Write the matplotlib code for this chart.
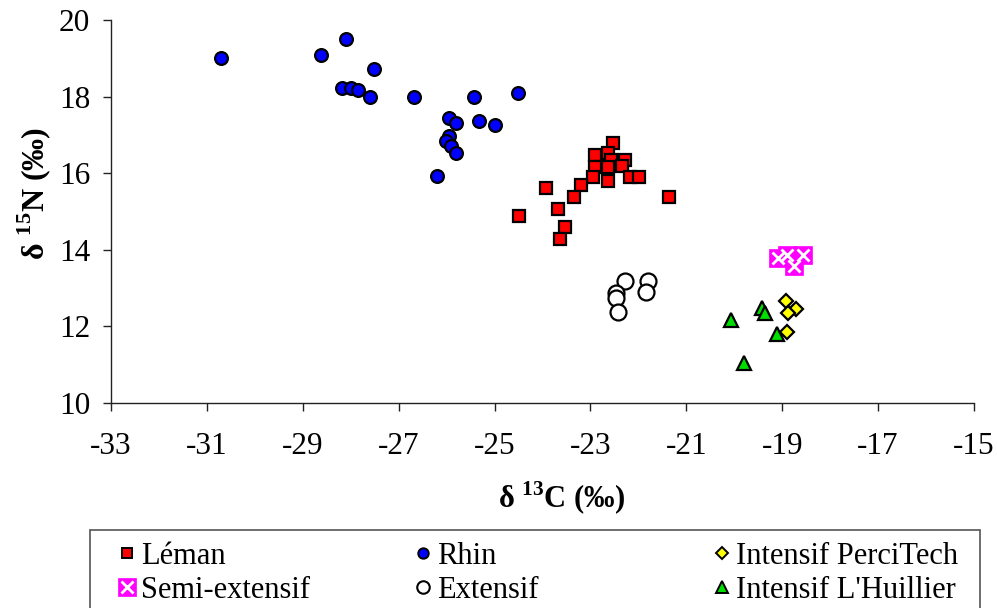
import matplotlib
matplotlib.use("Agg")
import matplotlib.pyplot as plt
from matplotlib.lines import Line2D
from matplotlib.patches import Rectangle

plt.rcParams['font.family'] = ['Liberation Serif', 'DejaVu Serif']
plt.rcParams['mathtext.fontset'] = 'custom'
plt.rcParams['mathtext.rm'] = 'Liberation Serif'
plt.rcParams['mathtext.bf'] = 'Liberation Serif:bold'
plt.rcParams['axes.unicode_minus'] = False

# ---- data ----
leman_x = [-22.52, -22.91, -22.63, -22.27, -22.57, -22.91, -22.63, -22.34, -22.95, -22.18,
           -21.98, -22.63, -23.20, -23.93, -23.35, -21.37, -23.68, -24.50, -23.54, -23.64]
leman_y = [16.78, 16.48, 16.54, 16.35, 16.34, 16.17, 16.17, 16.18, 15.91, 15.91,
           15.91, 15.80, 15.68, 15.62, 15.38, 15.38, 15.07, 14.88, 14.60, 14.28]

rhin_x = [-30.71, -28.09, -28.62, -27.51, -28.19, -27.99, -27.84, -27.60, -26.69, -25.43,
          -24.51, -25.96, -25.81, -25.32, -25.00, -25.96, -26.02, -25.91, -25.81, -26.21]
rhin_y = [19.01, 19.50, 19.08, 18.71, 18.22, 18.23, 18.16, 17.98, 17.98, 17.98,
          18.10, 17.44, 17.32, 17.37, 17.25, 16.96, 16.83, 16.71, 16.53, 15.93]

perci_x = [-18.92, -18.71, -18.87, -18.91]
perci_y = [12.66, 12.45, 12.34, 11.86]

semi_x = [-19.08, -18.91, -18.56, -18.75]
semi_y = [13.78, 13.86, 13.86, 13.58]

ext_x = [-22.28, -21.79, -22.47, -21.84, -22.47, -22.42]
ext_y = [13.19, 13.19, 12.86, 12.89, 12.73, 12.38]

lhuil_x = [-19.43, -19.36, -20.07, -19.11, -19.79]
lhuil_y = [12.47, 12.36, 12.17, 11.80, 11.04]

x_ticks = list(range(-33, -14, 2))
y_ticks = list(range(10, 21, 2))

W, H = 997, 608
fig = plt.figure(figsize=(W / 100, H / 100), dpi=100)

def fx(px):
    return px / W

def fy(py):
    return 1 - py / H

ax_l, ax_r, ax_t, ax_b = 111, 974, 20, 403
ax = fig.add_axes([fx(ax_l), fy(ax_b), (ax_r - ax_l) / W, (ax_b - ax_t) / H])

ax.plot(rhin_x, rhin_y, 'o', ms=9.2, mfc='#0000ff', mec='black', mew=1.6, ls='none', zorder=3)
ax.plot(leman_x, leman_y, 's', ms=9.0, mfc='#ff0000', mec='black', mew=1.6, ls='none', zorder=3)
ax.plot(ext_x, ext_y, 'o', ms=11.5, mfc='white', mec='black', mew=1.6, ls='none', zorder=3)
ax.plot(lhuil_x, lhuil_y, '^', ms=10.5, mfc='#00dd00', mec='black', mew=1.6, ls='none', zorder=3)
ax.plot(perci_x, perci_y, 'D', ms=7.5, mfc='#ffff00', mec='black', mew=1.6, ls='none', zorder=3)
ax.plot(semi_x, semi_y, 's', ms=12.5, mfc='#ff00ff', mec='#ff00ff', mew=0.5, ls='none', zorder=3)
ax.plot(semi_x, semi_y, 'x', ms=9, mec='white', mew=2.0, ls='none', zorder=4)

ax.set_xlim(-33, -15)
ax.set_ylim(10, 20)
ax.set_xticks(x_ticks)
ax.set_yticks(y_ticks)
ax.set_xticklabels([str(v) for v in x_ticks])
ax.set_yticklabels([str(v) for v in y_ticks])
for s in ['top', 'right']:
    ax.spines[s].set_visible(False)
for s in ['left', 'bottom']:
    ax.spines[s].set_linewidth(1.0)
    ax.spines[s].set_color('#222222')
ax.tick_params(axis='both', direction='out', length=6, width=1.0, color='#222222',
               labelsize=22.5, labelcolor='black')
ax.tick_params(axis='x', pad=15)
ax.tick_params(axis='y', pad=9)

fig.text(fx(562), fy(498), r'δ $^{\mathbf{13}}$C (‰)', fontsize=22, fontweight='bold',
         ha='center', va='center')
fig.text(fx(34), fy(193), r'δ $^{\mathbf{15}}$N (‰)', fontsize=23, fontweight='bold',
         ha='center', va='center', rotation=90)

# ---- legend (drawn as a framed box below the axes) ----
fig.add_artist(Rectangle((fx(90), fy(625)), (980 - 90) / W, (625 - 530) / H,
                         transform=fig.transFigure, fill=False, ec='#555555', lw=1.2))

entries = [
    ("Léman", 127, 553, dict(marker='s', ms=7, mfc='#ff0000', mec='black', mew=1.4)),
    ("Rhin", 423, 553, dict(marker='o', ms=7.5, mfc='#0000ff', mec='black', mew=1.4)),
    ("Intensif PerciTech", 722, 553, dict(marker='D', ms=6, mfc='#ffff00', mec='black', mew=1.4)),
    ("Semi-extensif", 127, 587, dict(marker='s', ms=13, mfc='#ff00ff', mec='#ff00ff', mew=0.5)),
    ("Extensif", 423, 587, dict(marker='o', ms=9, mfc='white', mec='black', mew=1.5)),
    ("Intensif L'Huillier", 722, 587, dict(marker='^', ms=9, mfc='#00dd00', mec='black', mew=1.4)),
]
for label, mx, my, style in entries:
    fig.add_artist(Line2D([fx(mx)], [fy(my)], transform=fig.transFigure, ls='none', **style))
    if label == "Semi-extensif":
        fig.add_artist(Line2D([fx(mx)], [fy(my)], transform=fig.transFigure, ls='none',
                              marker='x', ms=9, mec='white', mew=2.0))
    fig.text(fx(mx + 14), fy(my), label, fontsize=22, ha='left', va='center_baseline')

fig.savefig('out.png', dpi=100)
